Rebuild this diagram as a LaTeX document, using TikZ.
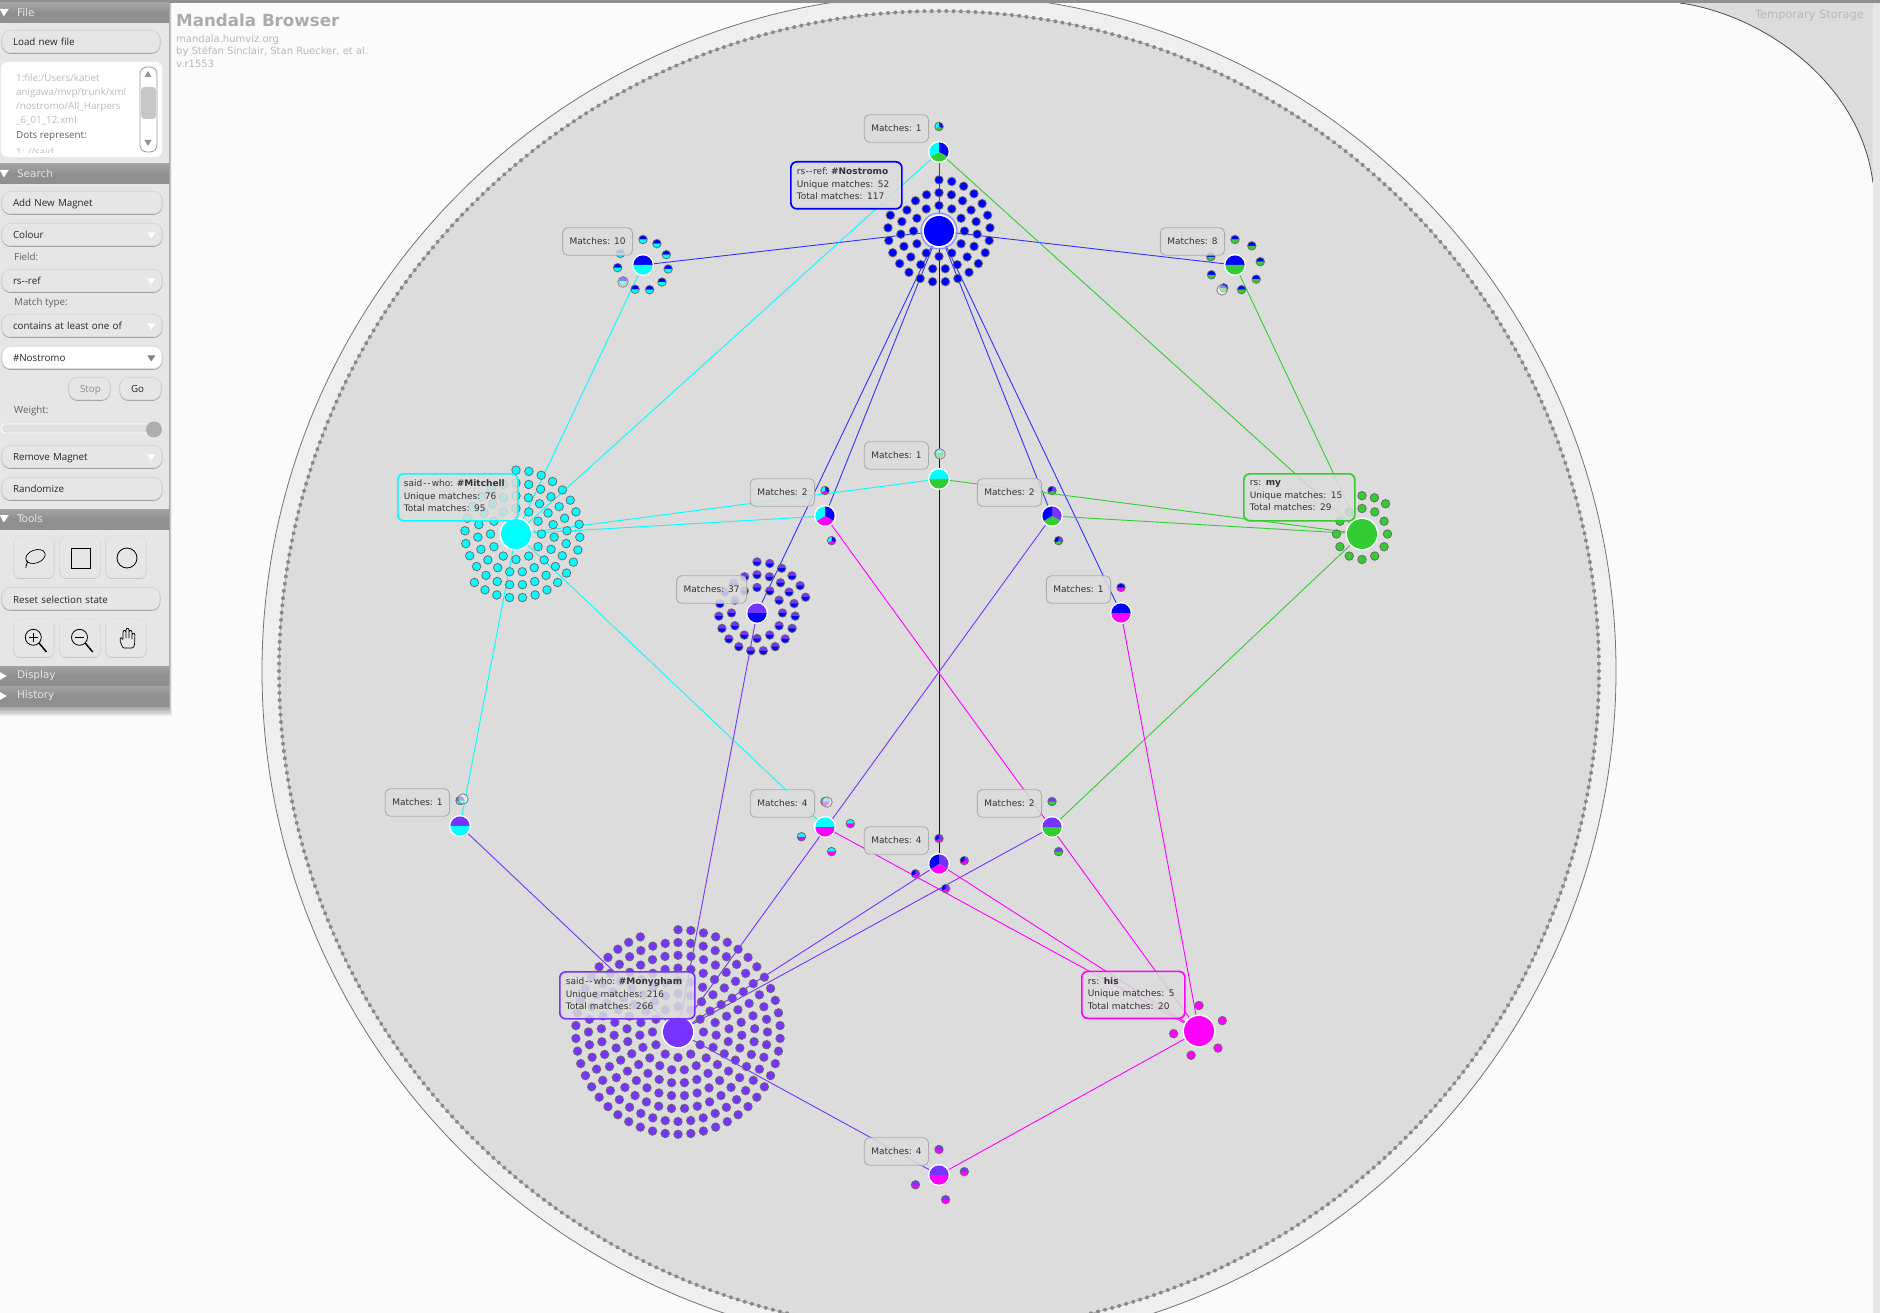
\documentclass[tikz,border=0pt]{standalone}
\usepackage{fontspec}
\setmainfont{DejaVu Sans}
\newfontfamily\panelfont{Open Sans}
\usetikzlibrary{backgrounds}

\definecolor{magblue}{HTML}{0000FF}
\definecolor{magcyan}{HTML}{00FFFF}
\definecolor{magpurple}{HTML}{7733FF}
\definecolor{magpink}{HTML}{FF00FF}
\definecolor{maggreen}{HTML}{33CC33}
\definecolor{pagebg}{HTML}{FBFBFB}
\definecolor{discbg}{HTML}{DCDCDC}
\definecolor{rimbg}{HTML}{EFEFEF}
\definecolor{panelbg}{HTML}{E6E6E6}
\definecolor{headbg}{HTML}{8F8F8F}

\tikzset{
    hubnode/.style={circle, fill=white, inner sep=0pt, minimum size=#1},
    hubnode/.default=22,
    matchbox/.style={draw=black!32, line width=0.9pt, rounded corners=5pt, fill=discbg, fill opacity=0.85,
        text opacity=1, text=black!80, minimum height=27.5, inner xsep=7pt, inner ysep=0pt,
        font=\fontsize{9}{11}\selectfont},
    tipbox/.style={line width=1.7pt, rounded corners=6pt, fill=discbg, fill opacity=0.85, text opacity=1,
        text=black!80, anchor=north west, align=left, minimum height=47, inner xsep=6pt, inner ysep=0pt,
        text width=#1, font=\fontsize{9}{12.5}\selectfont, execute at end node={\par\vspace{3pt}}},
    lowtip/.style={execute at end node={}},
    edge/.style={line width=0.9pt, draw=#1},
    washdot/.style={draw=black!50, line width=0.8pt, fill=white, fill opacity=0.5},
    capsule/.style={draw=black!17, line width=0.6pt, fill=panelbg, rounded corners=8.5pt, minimum height=22.5,
        minimum width=#1, text width=#1-22, inner xsep=11pt, inner ysep=0pt, align=left, text=black!85,
        text height=10pt, text depth=1pt,
        font=\panelfont\fontsize{9.8}{11}\selectfont,
        preaction={draw=black!38, line width=0.8pt, transform canvas={yshift=-0.7pt}}},
    capsule/.default=160,
    menubtn/.style={capsule, text depth=2.7pt},
    smallbtn/.style={capsule=41, align=center},
    toolbtn/.style={draw=black!12, fill=panelbg, line width=0.7pt, rounded corners=6pt, minimum width=40, minimum height=#1,
        preaction={draw=black!28, line width=0.7pt, transform canvas={yshift=-0.5pt}}},
    headbar/.style={fill=headbg, top color=black!36, bottom color=headbg, middle color=headbg, minimum width=169, text width=135,
        minimum height=20, inner xsep=17pt, inner ysep=0pt, align=left, text=white!90!black,
        font=\fontsize{10.5}{12}\selectfont},
    fieldtext/.style={anchor=west, inner sep=0pt, text=black!62, text height=8pt, text depth=1pt,
        font=\panelfont\fontsize{9.8}{11}\selectfont},
    infotext/.style={anchor=west, inner sep=0pt, text=black!28, font=\fontsize{10}{11}\selectfont},
    filetext/.style={fieldtext, text=black!27},
}

\newcount\dotsleft

% pie inside a circle, clockwise
\newcommand{\pieslices}[3]{%
    \edef\slicelist{#3}%
    \foreach \slice [count=\i] in \slicelist {\xdef\slicecount{\i}}%
    \pgfmathsetmacro{\slicestart}{\slicecount==2 ? 180 : 90}%
    \pgfmathsetmacro{\slicestep}{360/\slicecount}%
    \foreach \slice [count=\i] in \slicelist {%
        \fill[\slice] (#1.center) -- ++({\slicestart-(\i-1)*\slicestep}:#2)
            arc ({\slicestart-(\i-1)*\slicestep}:{\slicestart-\i*\slicestep}:#2) -- cycle;
    }%
}

% rings of dots, filled from the top, clockwise
\newcommand{\scatterdots}[3]{%
    \global\dotsleft=#2\relax
    \foreach \ringr/\ringn in {25.5/12, 38.3/19, 51.1/25, 63.9/31, 76.7/37, 89.5/44, 102.3/50}{%
        \ifnum\dotsleft>0
            \pgfmathsetmacro{\dotstep}{\dotsleft<12 && \ringn==12 ? 330/\dotsleft : 360/\ringn}%
            \pgfmathtruncatemacro{\dotsnow}{min(\dotsleft,\ringn)}%
            \foreach \k in {1,...,\dotsnow}{%
                \path (#1.center) ++({90-(\k-1)*\dotstep}:\ringr) coordinate (dotspot);
                \fill[black!58] (dotspot) circle (4.7);
                \pieslices{dotspot}{3.7}{#3}
            }%
            \global\advance\dotsleft by -\dotsnow\relax
        \fi
    }%
}

\begin{document}
\begin{tikzpicture}[x=1pt, y=1pt]
    \useasboundingbox (0,0) rectangle (1880,-1313);

    % Page, storage corner and disc
    \begin{scope}[on background layer]
        \fill[pagebg] (0,0) rectangle (1880,-1313);
        \fill[discbg] (1680,-3) .. controls (1760,-14) and (1860,-80) .. (1873,-183) -- (1873,-3) -- cycle;
        \draw[black!70, line width=0.8pt] (1680,-3) .. controls (1760,-14) and (1860,-80) .. (1873,-183);
        \fill[panelbg] (1873,-3) rectangle (1880,-1313);
        \filldraw[fill=rimbg, draw=black!55, line width=0.8pt] (939,-671) circle (677);
        \filldraw[fill=discbg, draw=black!40, line width=0.5pt] (939,-671) circle (660);
        \foreach \k in {1,...,568}{
            \fill[black!46] (939,-671) ++({\k/568*360}:660) circle (2);
        }
    \end{scope}

    % Magnets
    \node[hubnode=33] (nostromo) at (939,-231) {};
    \node[hubnode=33] (mitchell) at (516,-534) {};
    \node[hubnode=33] (monygham) at (678,-1032) {};
    \node[hubnode=33] (my) at (1362,-534) {};
    \node[hubnode=33] (his) at (1199,-1031) {};

    % Crossings
    \node[hubnode] (top) at (939,-152) {};
    \node[hubnode] (left) at (643,-265) {};
    \node[hubnode] (right) at (1235,-265) {};
    \node[hubnode] (mid) at (939,-479) {};
    \node[hubnode] (midl) at (825,-516) {};
    \node[hubnode] (midr) at (1052,-516) {};
    \node[hubnode] (lowl) at (757,-613) {};
    \node[hubnode] (lowr) at (1121,-613) {};
    \node[hubnode] (farl) at (460,-826) {};
    \node[hubnode] (botl) at (825,-827) {};
    \node[hubnode] (botr) at (1052,-827) {};
    \node[hubnode] (botm) at (939,-864) {};
    \node[hubnode] (foot) at (939,-1175) {};

    % Connectors
    \begin{scope}[on background layer]
        \foreach \hub in {top, left, right, midl, midr, lowl, lowr}
            \draw[edge=magblue!80!white] (nostromo) -- (\hub);
        \draw[edge=magblue!70!black] (nostromo) -- (botm);
        \foreach \hub in {top, left, mid, midl, farl, botl}
            \draw[edge=magcyan] (mitchell) -- (\hub);
        \foreach \hub in {top, right, mid, midr, botr}
            \draw[edge=maggreen] (my) -- (\hub);
        \foreach \hub in {midr, lowl, farl, botr, botm, foot}
            \draw[edge=magpurple] (monygham) -- (\hub);
        \foreach \hub in {midl, lowr, botl, botm, foot}
            \draw[edge=magpink] (his) -- (\hub);
    \end{scope}

    % Magnet dots and pies
    \scatterdots{nostromo}{52}{magblue}
    \scatterdots{mitchell}{76}{magcyan}
    \scatterdots{monygham}{216}{magpurple}
    \scatterdots{my}{15}{maggreen}
    \scatterdots{his}{5}{magpink}
    \fill[magblue] (nostromo) circle (15);
    \draw[magblue!45!white, line width=1.2pt] (nostromo) circle (18);
    \fill[magcyan] (mitchell) circle (15);
    \fill[magpurple] (monygham) circle (15);
    \fill[maggreen] (my) circle (15);
    \fill[magpink] (his) circle (15);

    % Crossing dots and pies
    \foreach \hub/\total/\cols in {
        top/1/{magblue,maggreen,magcyan}, left/10/{magblue,magcyan}, right/8/{magblue,maggreen},
        mid/1/{magcyan,maggreen}, midl/2/{magblue,magpink,magcyan}, midr/2/{magpurple,maggreen,magblue},
        lowl/37/{magpurple,magblue}, lowr/1/{magblue,magpink}, farl/1/{magpurple,magcyan},
        botl/4/{magcyan,magpink}, botr/2/{magpurple,maggreen}, botm/4/{magpurple,magpink,magblue},
        foot/4/{magpurple,magpink}}{
        \scatterdots{\hub}{\total}{\cols}
        \pieslices{\hub}{9.6}{\cols}
        \node[matchbox, anchor=east] (label\hub) at ([shift={(-10,23.5)}]\hub) {Matches: \total};
    }

    % Faded dots
    \foreach \x/\y in {940/-454, 463/-799, 827/-802, 623/-282, 1222/-290}
        \draw[washdot] (\x,\y) circle (5.2);

    % Magnet tips
    \node[tipbox=99, draw=magblue] (tipnostromo) at (790,-161) {rs\kern.5pt-\kern.5pt-\kern.5pt ref:\kern3pt \textbf{\#Nostromo}\\Unique matches: 52\\Total matches: 117};
    \node[tipbox=108, lowtip, draw=magcyan] (tipmitchell) at (397,-473) {said\kern1pt-\kern.8pt-\kern1.2pt who:\kern3.5pt \textbf{\#Mitchell}\\Unique matches: 76\\Total matches: 95};
    \node[tipbox=123, draw=magpurple] (tipmonygham) at (559,-971) {said\kern1pt-\kern.8pt-\kern1.2pt who:\kern3.5pt \textbf{\#Monygham}\\Unique matches: 216\\Total matches: 266};
    \node[tipbox=99, lowtip, draw=maggreen] (tipmy) at (1243,-473) {rs: \textbf{my}\\Unique matches: 15\\Total matches: 29};
    \node[tipbox=91, draw=magpink] (tiphis) at (1081,-970.5) {rs: \textbf{his}\\Unique matches: 5\\Total matches: 20};

    % Page texts
    \fill[headbg] (0,0) rectangle (1880,-3);
    \node[anchor=west, inner sep=0pt, text=black!33, font=\bfseries\fontsize{16.7}{18}\selectfont] (title) at (176,-20) {Mandala Browser};
    \node[infotext] (site) at (176,-40) {mandala.humviz.org};
    \node[infotext] (authors) at (176,-52) {by Stéfan Sinclair, Stan Ruecker, et al.};
    \node[infotext] (version) at (176,-64) {v.r1553};
    \node[anchor=east, inner sep=0pt, text=black!28, font=\fontsize{11.4}{13}\selectfont] (storage) at (1864,-15) {Temporary Storage};

    % Panel
    \foreach \s in {1,...,8}
        \fill[black, opacity=0.05] (0,-3) rectangle (169+\s/3,-706-\s*1.3);
    \fill[panelbg] (0,-3) rectangle (169,-706);
    \draw[black!35, line width=0.6pt] (169,-3) -- (169,-706);
    \node[headbar] (filehead) at (84.5,-13) {File};
    \node[headbar] (searchhead) at (84.5,-174) {Search};
    \node[headbar] (toolshead) at (84.5,-519) {Tools};
    \node[headbar] (displayhead) at (84.5,-676) {Display};
    \node[headbar] (historyhead) at (84.5,-696) {History};
    \foreach \head in {filehead, searchhead, toolshead}
        \fill[white] ([yshift=4pt]\head.west) -- +(9,0) -- +(4,-7.5) -- cycle;
    \foreach \head in {displayhead, historyhead}
        \fill[white] ([yshift=4pt]\head.west) -- +(7,-4) -- +(0,-8) -- cycle;

    \node[capsule=158] (loadfile) at (81,-41.5) {Load new file};
    \filldraw[fill=white, draw=white, rounded corners=7pt] (1,-62) rectangle (162,-157);
    \begin{scope}
        \clip (2,-66) rectangle (138,-152.5);
        \node[filetext] (fileone) at (16,-78.5) {1:file:/Users/katiet};
        \node[filetext] (filetwo) at (16,-92.5) {anigawa/mvp/trunk/xml};
        \node[filetext] (filethree) at (16,-106.5) {/nostromo/All\_Harpers};
        \node[filetext] (filefour) at (16,-120.5) {\_6\_01\_12.xml};
        \node[filetext, text=black!62] (dotsnote) at (16,-135.5) {Dots represent:};
        \node[filetext] (dotsone) at (16,-152) {1: //said};
    \end{scope}
    \draw[black!40, line width=0.8pt, fill=white, rounded corners=7pt] (140,-67) rectangle (157,-152);
    \fill[black!22, rounded corners=3pt] (141.2,-87) rectangle (155.8,-119);
    \fill[black!42] (144.5,-77) -- (151.5,-77) -- (148,-71) -- cycle;
    \fill[black!42] (144.5,-140) -- (151.5,-140) -- (148,-146) -- cycle;

    \node[capsule] (addmagnet) at (82,-202.5) {Add New Magnet};
    \node[menubtn] (colourmenu) at (82,-234.5) {Colour};
    \node[fieldtext] (fieldlabel) at (14,-257) {Field:};
    \node[menubtn] (fieldmenu) at (82,-280.5) {rs-{}-ref};
    \node[fieldtext] (matchlabel) at (14,-302) {Match type:};
    \node[menubtn] (matchmenu) at (82,-325.5) {contains at least one of};
    \node[menubtn, fill=white] (searchterm) at (82,-357.5) {\#Nostromo};
    \fill[black!50] ([xshift=-7pt,yshift=2pt]searchterm.east) -- +(-8,0) -- +(-4,-6) -- cycle;
    \node[smallbtn, text=black!45] (stopbtn) at (89.5,-388.5) {Stop};
    \node[smallbtn] (gobtn) at (140.5,-388.5) {Go\kern6pt};
    \node[fieldtext] (weightlabel) at (14,-410) {Weight:};
    \filldraw[fill=black!12, draw=white, rounded corners=4pt, line width=0.8pt] (1,-424) rectangle (162,-433);
    \fill[black!32] (154,-429.5) circle (8);
    \node[menubtn] (removemagnet) at (82,-456.5) {Remove Magnet};
    \node[capsule] (randomize) at (82,-488.5) {Randomize};
    \foreach \menu in {colourmenu, fieldmenu, matchmenu, removemagnet}
        \fill[white] ([xshift=-7pt,yshift=2pt]\menu.east) -- +(-8,0) -- +(-4,-6) -- cycle;

    % Tools
    \node[toolbtn=42] (lassobtn) at (34,-557) {};
    \node[toolbtn=42] (rectbtn) at (80,-557) {};
    \node[toolbtn=42] (circbtn) at (126,-557) {};
    \node[capsule=158] (resetbtn) at (81,-598.5) {Reset selection state};
    \node[toolbtn=38] (zoominbtn) at (34,-638) {};
    \node[toolbtn=38] (zoomoutbtn) at (80,-638) {};
    \node[toolbtn=38] (handbtn) at (126,-638) {};
    \draw[black, line width=0.7pt, rotate around={20:(35.5,-556.5)}] (35.5,-556.5) ellipse (10 and 6.5);
    \draw[black, line width=0.9pt] (26.5,-560) .. controls (29,-563) and (25,-565) .. (26,-568);
    \draw[black, line width=0.8pt] (71.5,-548) rectangle (90.5,-568);
    \draw[black, line width=0.8pt] (127,-558) circle (10);
    \draw[black, line width=0.8pt] (33.3,-637.3) circle (8);
    \draw[black, line width=1.4pt] (29,-637.3) -- (37.6,-637.3) (33.3,-633) -- (33.3,-641.6);
    \draw[black, line width=1.5pt] (39,-643) -- (46.5,-652);
    \draw[black, line width=0.8pt] (79.5,-637.3) circle (8);
    \draw[black, line width=1.4pt] (75.2,-637.3) -- (83.8,-637.3);
    \draw[black, line width=1.5pt] (85.2,-643) -- (92.7,-652);
    \draw[black, line width=0.7pt, line join=round, rounded corners=1pt]
        (123,-648) -- (120,-641) -- (120.5,-637) -- (123,-640) -- (123,-631) -- (124.5,-630) -- (126,-631) -- (126,-639)
        -- (126,-629) -- (127.5,-628) -- (129,-629) -- (129,-639) -- (129,-631) -- (130.5,-630) -- (132,-631) -- (132,-640)
        -- (132,-634) -- (133.5,-633) -- (135,-634) -- (134.5,-645) -- (133,-648) -- cycle;
\end{tikzpicture}
\end{document}
